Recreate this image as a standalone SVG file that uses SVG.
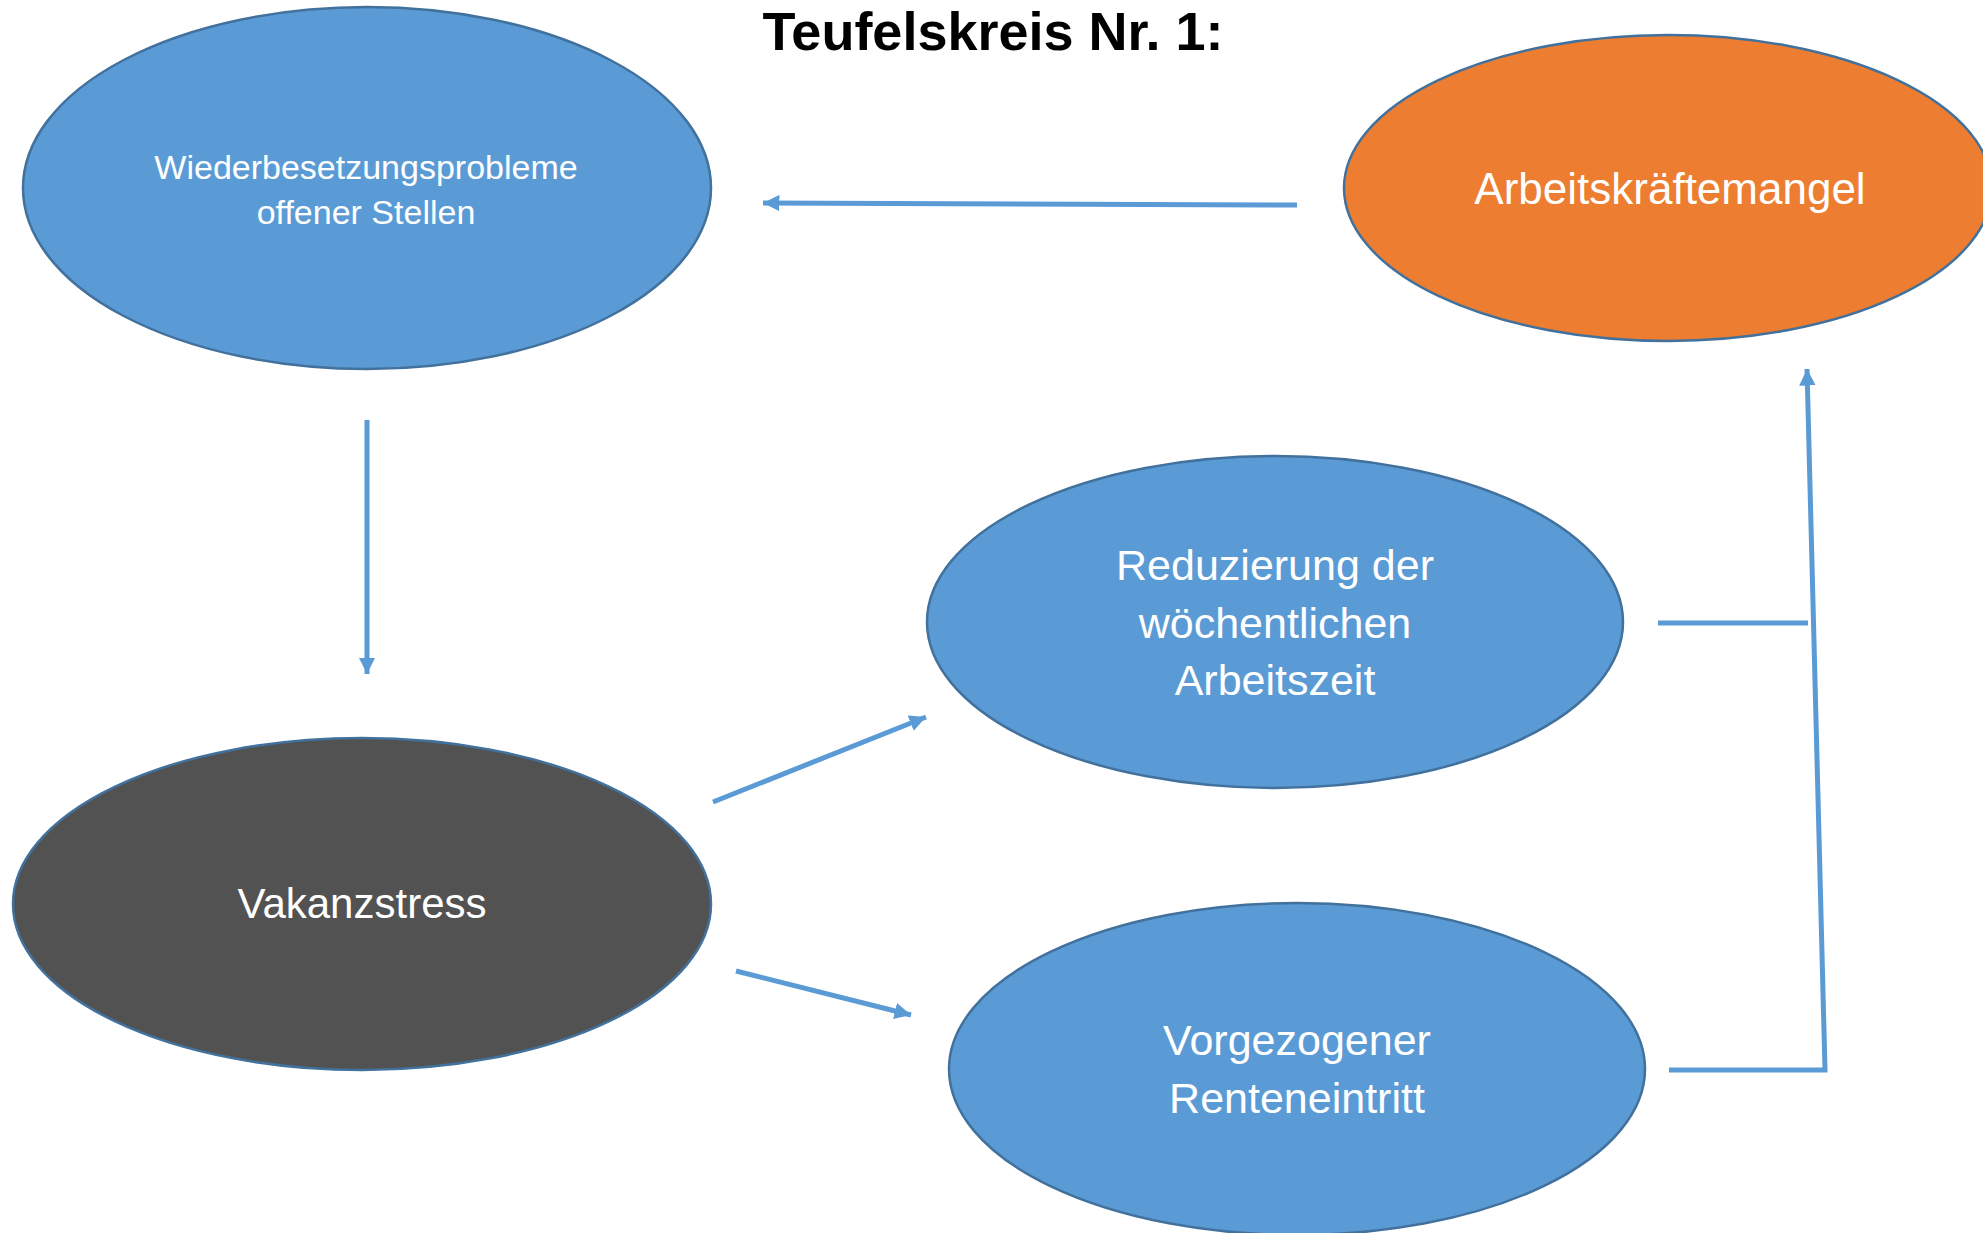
<svg xmlns="http://www.w3.org/2000/svg" width="1983" height="1233" viewBox="0 0 1983 1233">
<defs>
<style>
.node{stroke:#41719C;stroke-width:2.5}
.blue{fill:#5B9BD5}
.orange{fill:#ED7D31}
.dark{fill:#525252}
.lbl{font-family:"Liberation Sans",Arial,sans-serif;fill:#FFFFFF;text-anchor:middle}
.title{font-family:"Liberation Sans",Arial,sans-serif;font-weight:bold;fill:#000000;text-anchor:middle}
.con{stroke:#5B9BD5;stroke-width:5;fill:none}
</style>
<marker id="arr" viewBox="0 0 10 10" refX="10" refY="5" markerWidth="3.3" markerHeight="3.4" markerUnits="strokeWidth" orient="auto">
<path d="M0,0 L10,5 L0,10 Z" fill="#5B9BD5"/>
</marker>
</defs>
<rect width="1983" height="1233" fill="#FFFFFF"/>
<text class="title" x="993" y="50" font-size="54">Teufelskreis Nr. 1:</text>
<g id="n-wiederbesetzung">
<ellipse class="node blue" cx="367" cy="188" rx="344" ry="181"/>
<text class="lbl" x="366" y="179" font-size="34">Wiederbesetzungsprobleme</text>
<text class="lbl" x="366" y="224" font-size="34">offener Stellen</text>
</g>
<g id="n-arbeitskraeftemangel">
<ellipse class="node orange" cx="1668" cy="188" rx="324" ry="153"/>
<text class="lbl" x="1670" y="204" font-size="44">Arbeitskräftemangel</text>
</g>
<g id="n-reduzierung">
<ellipse class="node blue" cx="1275" cy="622" rx="348" ry="166"/>
<text class="lbl" x="1275" y="580" font-size="43">Reduzierung der</text>
<text class="lbl" x="1275" y="638" font-size="43">wöchentlichen</text>
<text class="lbl" x="1275" y="695" font-size="43">Arbeitszeit</text>
</g>
<g id="n-vakanzstress">
<ellipse class="node dark" cx="362" cy="904" rx="349" ry="166"/>
<text class="lbl" x="362" y="918" font-size="42">Vakanzstress</text>
</g>
<g id="n-vorgezogener">
<ellipse class="node blue" cx="1297" cy="1069" rx="348" ry="166"/>
<text class="lbl" x="1297" y="1055" font-size="43">Vorgezogener</text>
<text class="lbl" x="1297" y="1113" font-size="43">Renteneintritt</text>
</g>
<g id="connectors">
<line class="con" x1="1297" y1="205" x2="763" y2="203" marker-end="url(#arr)"/>
<line class="con" x1="367" y1="420" x2="367" y2="674" marker-end="url(#arr)"/>
<line class="con" x1="713" y1="802" x2="926" y2="717" marker-end="url(#arr)"/>
<line class="con" x1="736" y1="971" x2="911" y2="1015" marker-end="url(#arr)"/>
<line class="con" x1="1658" y1="623" x2="1808" y2="623"/>
<polyline class="con" points="1669,1070 1825,1070 1807,369" marker-end="url(#arr)"/>
</g>
</svg>
